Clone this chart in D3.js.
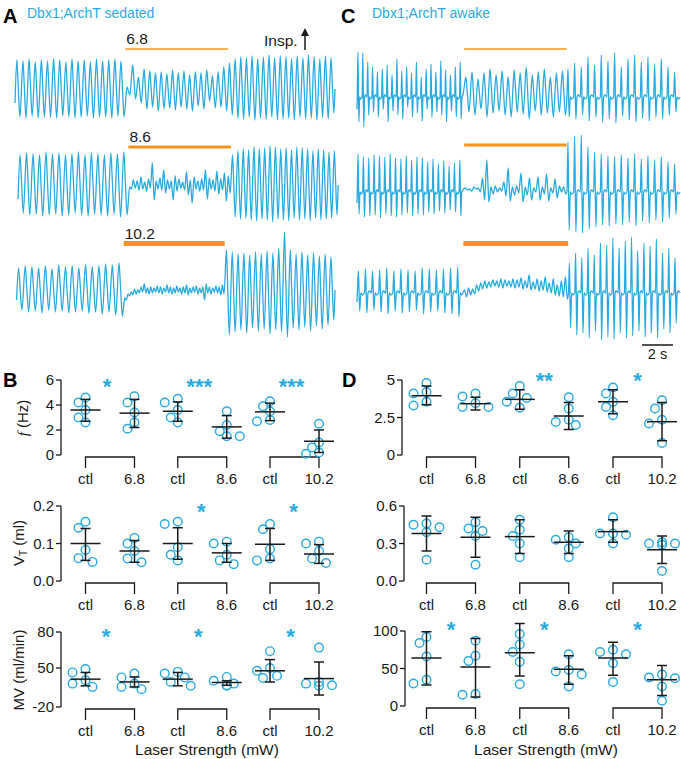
<!DOCTYPE html>
<html><head><meta charset="utf-8">
<script src="https://cdn.jsdelivr.net/npm/d3@7"></script>
<style>body{margin:0;background:#fff}svg{display:block}text{font-family:"Liberation Sans",Arial,sans-serif}</style>
</head><body><svg id="c" width="681" height="759"></svg>
<script>
// ================= DATA =================
const categories = ["ctl","6.8","ctl","8.6","ctl","10.2"];
const laserLevels = ["6.8","8.6","10.2"];

// ---- Panel B (sedated): points per group, mean, whisker [lo,hi]
const sedFreqPts = [[4.6,4.2,3.6,3.0,2.6],[4.7,4.2,3.4,2.6,2.1],[4.5,4.2,3.6,3.0,2.6],[3.5,2.4,1.9,1.5,1.5],[4.3,3.9,3.5,2.8,2.7],[2.5,1.0,0.6,0.2,0.1]];
const sedFreqMean = [3.6,3.35,3.5,2.25,3.45,1.1];
const sedFreqErr = [[2.7,4.45],[2.2,4.45],[2.7,4.25],[1.35,3.15],[2.75,4.15],[0.2,2.0]];
const sedVtPts = [[0.158,0.142,0.083,0.061,0.051],[0.115,0.1,0.08,0.06,0.05],[0.158,0.152,0.09,0.07,0.055],[0.105,0.1,0.07,0.055,0.045],[0.152,0.138,0.085,0.06,0.055],[0.105,0.1,0.08,0.06,0.048]];
const sedVtMean = [0.1,0.08,0.1,0.075,0.098,0.072];
const sedVtErr = [[0.055,0.14],[0.05,0.108],[0.058,0.142],[0.05,0.1],[0.055,0.14],[0.047,0.097]];
const sedMvPts = [[48,42,28,22,16],[40,33,22,16,12],[43,40,33,25,18],[34,27,22,19,18],[64,50,45,36,32],[67,25,22,19,18]];
const sedMvMean = [30,25,30,24,45,31];
const sedMvErr = [[18,42],[16,34],[18,42],[19,27],[25,57],[1.5,55]];

// ---- Panel D (awake)
const awkFreqPts = [[4.8,4.2,4.1,3.55,3.3],[4.1,3.9,3.45,3.2,3.2],[4.6,4.1,3.8,3.55,3.15],[3.85,3.1,2.35,2.2,2.0],[4.5,4.1,3.55,3.2,2.65],[3.65,3.1,2.35,2.1,0.8]];
const awkFreqMean = [3.95,3.42,3.71,2.6,3.55,2.22];
const awkFreqErr = [[3.35,4.6],[3.0,3.85],[3.05,4.35],[1.7,3.5],[2.75,4.35],[0.95,3.5]];
const awkVtPts = [[0.46,0.45,0.43,0.39,0.17],[0.47,0.42,0.40,0.36,0.13],[0.49,0.41,0.36,0.30,0.19],[0.35,0.33,0.30,0.26,0.19],[0.51,0.38,0.38,0.37,0.30],[0.31,0.30,0.30,0.29,0.08]];
const awkVtMean = [0.38,0.35,0.355,0.31,0.395,0.25];
const awkVtErr = [[0.24,0.52],[0.19,0.51],[0.22,0.49],[0.22,0.40],[0.31,0.49],[0.14,0.36]];
const awkMvPts = [[92,84,66,35,30],[87,67,60,16,15],[96,82,72,59,29],[69,48,46,42,26],[75,72,69,57,32],[42,38,37,26,7]];
const awkMvMean = [64,52,71,49,64,35];
const awkMvErr = [[28,99],[12,90],[40,110],[29,67],[41,85],[14,54]];

// significance marks: [pair index, stars]
const sedFreqSig = [[0,"*"],[1,"***"],[2,"***"]];
const sedVtSig = [[1,"*"],[2,"*"]];
const sedMvSig = [[0,"*"],[1,"*"],[2,"*"]];
const awkFreqSig = [[1,"**"],[2,"*"]];
const awkVtSig = [];
const awkMvSig = [[0,"*"],[1,"*"],[2,"*"]];

// tick values / labels
const sedFreqTicks = [0,2,4,6], sedFreqTickLabels = ["0","2","4","6"];
const sedVtTicks = [0,0.1,0.2], sedVtTickLabels = ["0.0","0.1","0.2"];
const sedMvTicks = [-20,50,80], sedMvTickLabels = ["-20","50","80"];
const awkFreqTicks = [0,2.5,5], awkFreqTickLabels = ["0","2.5","5"];
const awkVtTicks = [0,0.3,0.6], awkVtTickLabels = ["0.0","0.3","0.6"];
const awkMvTicks = [0,50,100], awkMvTickLabels = ["0","50","100"];

// ---- Breathing traces: times (s) [start, laser on, laser off, end]; cycles [peak, trough] (a.u.)
const sed68Times = [0, 7.1, 13.7, 20.6];
const sed68Pre = [[29,-28],[28,-29],[30,-27],[27,-29],[29,-28],[28,-28],[30,-29],[29,-27],[27,-28],[30,-29],[28,-28],[29,-27],[27,-29],[30,-28],[28,-28],[29,-29],[30,-27],[28,-28]];
const sed68Laser = [[2,-6],[24,-10],[12,-14],[20,-20],[18,-18],[16,-22],[17,-20],[15,-19],[19,-21],[16,-18],[18,-20],[14,-22],[17,-17],[16,-20],[19,-12],[13,-19],[17,-18],[22,-22]];
const sed68Post = [[26,-26],[30,-29],[32,-30],[31,-28],[33,-31],[30,-29],[32,-30],[34,-28],[31,-31],[33,-30],[32,-29],[30,-31],[33,-28],[31,-30],[34,-29],[32,-31],[30,-28],[33,-30],[31,-24]];
const sed86Times = [0.2, 7.3, 13.9, 20.8];
const sed86Pre = [[30,-28],[32,-30],[31,-29],[30,-31],[33,-30],[31,-29],[32,-31],[30,-30],[31,-28],[33,-30],[30,-31],[32,-29],[31,-30],[30,-31],[32,-29],[31,-32],[33,-30]];
const sed86Laser = [[-2,-4],[5,-3],[4,-5],[8,-4],[3,-6],[6,-3],[22,-15],[4,-4],[7,-5],[15,-8],[5,-4],[4,-15],[9,-6],[6,-3],[3,-5],[13,-10],[5,-18],[8,-4],[4,-6],[6,-5],[15,-14],[7,-4],[5,-6],[14,-9],[6,-5],[12,-16],[9,-8]];
const sed86Post = [[30,-32],[34,-34],[36,-33],[35,-35],[38,-36],[36,-34],[37,-35],[39,-37],[38,-34],[36,-35],[37,-36],[35,-33],[38,-35],[37,-34],[36,-36],[34,-33],[36,-35],[35,-34],[33,-33],[34,-30]];
const sed102Times = [0.1, 7.0, 13.5, 20.6];
const sed102Pre = [[22,-20],[24,-22],[23,-21],[22,-23],[24,-20],[21,-22],[25,-21],[23,-23],[24,-22],[22,-21],[25,-23],[23,-22],[24,-24],[26,-22],[25,-25],[27,-26]];
const sed102Laser = [[-8,-10],[-4,-6],[-2,-5],[1,-4],[0,-3],[3,-2],[6,-3],[2,-4],[3,-3],[2,-2],[4,-3],[3,-4],[2,-2],[5,-3],[3,-4],[2,-3],[4,-2],[2,-4],[3,-3],[5,-5],[2,-3],[3,-2],[4,-4],[2,-3],[3,-10],[6,-3],[3,-4],[2,-2],[4,-3],[3,-5],[5,-4]];
const sed102Post = [[40,-45],[38,-42],[36,-40],[37,-43],[35,-38],[38,-41],[36,-39],[39,-44],[37,-40],[42,-42],[58,-47],[40,-38],[36,-40],[38,-37],[35,-41],[37,-36],[34,-39],[36,-35],[33,-30]];

const awk68Times = [0, 6.9, 13.5, 20.8];
const awk68Pre = [[45,-25],[44,-30],[35,-18],[30,-15],[25,-20],[28,-12],[32,-25],[22,-14],[38,-18],[26,-22],[30,-10],[24,-20],[35,-16],[20,-24],[28,-12],[33,-20],[25,-15],[36,-18],[27,-25],[22,-14],[30,-20],[35,-22]];
const awk68Laser = [[20,-15],[25,-18],[18,-12],[24,-20],[28,-16],[22,-14],[26,-18],[20,-20],[27,-15],[24,-17],[30,-22],[22,-14],[25,-18],[28,-16],[20,-20],[24,-15],[26,-18]];
const awk68Post = [[28,-20],[34,-22],[30,-18],[40,-24],[32,-20],[42,-25],[36,-22],[44,-26],[30,-19],[38,-23],[42,-25],[35,-21],[40,-24],[33,-20],[38,-22],[30,-18],[25,-15]];
const awk86Times = [0, 6.9, 13.5, 20.8];
const awk86Pre = [[38,-22],[35,-25],[34,-24],[37,-23],[36,-26],[35,-22],[38,-24],[34,-25],[33,-23],[36,-21],[32,-24],[35,-22],[34,-23],[30,-20],[33,-22],[28,-19],[31,-21],[26,-18],[29,-20],[32,-24]];
const awk86Laser = [[4,2],[3,1],[5,3],[4,0],[14,-8],[32,-10],[5,-2],[6,0],[4,1],[10,-4],[24,-9],[5,-3],[6,-1],[19,-10],[5,-3],[14,-8],[4,0],[15,-8],[5,-2],[18,-9],[4,-1],[13,-6],[6,0],[5,-2]];
const awk86Post = [[50,-38],[56,-40],[57,-41],[45,-37],[40,-35],[38,-33],[36,-34],[35,-32],[37,-33],[34,-30],[38,-34],[33,-29],[36,-31],[32,-28],[35,-30],[30,-26],[28,-22]];
const awk102Times = [0, 6.85, 13.6, 20.8];
const awk102Pre = [[22,-18],[24,-20],[22,-17],[23,-19],[25,-21],[22,-18],[24,-20],[23,-19],[22,-17],[25,-21],[24,-19],[23,-18],[24,-20],[25,-21],[26,-24]];
const awk102Laser = [[3,-4],[5,-2],[4,-1],[8,2],[10,4],[12,5],[11,6],[13,7],[12,6],[14,5],[13,7],[12,6],[14,5],[13,6],[15,4],[12,5],[18,3],[11,4],[14,2],[12,3],[16,1],[10,0],[14,-2],[8,-3],[12,-4],[16,-6]];
const awk102Post = [[30,-35],[40,-42],[35,-40],[45,-45],[38,-38],[50,-47],[48,-44],[55,-46],[45,-40],[52,-45],[56,-43],[42,-38],[50,-44],[47,-40],[54,-45],[40,-36],[45,-40],[35,-30]];

// ================= DRAW =================
const cyan = "#29abe2", orange = "#f7941d", ink = "#1a1a1a";
const svg = d3.select("#c");

function drawTrace(cfg) {
  const x = d3.scaleLinear().domain([0, cfg.tMax]).range(cfg.xRange);
  const y = d3.scaleLinear().domain([-60, 60]).range([cfg.cy + 60, cfg.cy - 60]);
  const t = cfg.times;
  const segs = [[t[0], t[1], cfg.pre, cfg.style], [t[1], t[2], cfg.laser, "zig"], [t[2], t[3], cfg.post, cfg.style]];
  const pts = [[t[0], cfg.pre[0][1] * 0.5]];
  segs.forEach(([a, b, cyc, style]) => {
    const p = (b - a) / cyc.length;
    cyc.forEach(([top, bot], i) => {
      const t0 = a + i * p;
      if (style === "zig") {
        pts.push([t0 + 0.3 * p, top]);
        pts.push([t0 + 0.52 * p, bot + 0.55 * (top - bot)]);
        pts.push([t0 + 0.8 * p, bot]);
      } else {
        pts.push([t0 + 0.05 * p, 0]);
        pts.push([t0 + 0.2 * p, top]);
        pts.push([t0 + 0.38 * p, bot]);
        pts.push([t0 + 0.55 * p, 0]);
        pts.push([t0 + 0.75 * p, i % 2 ? 2 : -2]);
      }
    });
  });
  pts.push([t[3], 0]);
  svg.append("path").attr("d", d3.line().curve(d3.curveMonotoneX).x(d => x(d[0])).y(d => y(d[1]))(pts))
    .attr("fill", "none").attr("stroke", cyan).attr("stroke-width", 1.3).attr("stroke-linejoin", "round");
  svg.append("line").attr("x1", x(t[1])).attr("x2", x(t[2])).attr("y1", cfg.barY).attr("y2", cfg.barY)
    .attr("stroke", orange).attr("stroke-width", cfg.barW);
  if (cfg.label) svg.append("text").attr("x", x(t[1]) + 1).attr("y", cfg.barY - 5).attr("font-size", 15.5).attr("fill", ink).text(cfg.label);
  return x;
}

drawTrace({times: sed68Times, tMax: 20.6, xRange: [15, 335], cy: 89, pre: sed68Pre, laser: sed68Laser, post: sed68Post, style: "zig", barY: 49, barW: 1.5, label: laserLevels[0]});
drawTrace({times: sed86Times, tMax: 20.6, xRange: [15, 335], cy: 185, pre: sed86Pre, laser: sed86Laser, post: sed86Post, style: "zig", barY: 147, barW: 3, label: laserLevels[1]});
drawTrace({times: sed102Times, tMax: 20.6, xRange: [15, 335], cy: 290, pre: sed102Pre, laser: sed102Laser, post: sed102Post, style: "zig", barY: 243.5, barW: 5, label: laserLevels[2]});
drawTrace({times: awk68Times, tMax: 20.8, xRange: [357, 680], cy: 97, pre: awk68Pre, laser: awk68Laser, post: awk68Post, style: "spike", barY: 49, barW: 1.5});
drawTrace({times: awk86Times, tMax: 20.8, xRange: [357, 680], cy: 192, pre: awk86Pre, laser: awk86Laser, post: awk86Post, style: "spike", barY: 145, barW: 3});
const xC = drawTrace({times: awk102Times, tMax: 20.8, xRange: [357, 680], cy: 293, pre: awk102Pre, laser: awk102Laser, post: awk102Post, style: "spike", barY: 243.5, barW: 5});

// scale bar 2 s
svg.append("line").attr("x1", xC(18.35)).attr("x2", xC(20.35)).attr("y1", 345).attr("y2", 345).attr("stroke", ink).attr("stroke-width", 1.3);
svg.append("text").attr("x", (xC(18.35) + xC(20.35)) / 2).attr("y", 359).attr("text-anchor", "middle").attr("font-size", 14.5).attr("fill", ink).text("2 s");

// Insp. arrow
svg.append("text").attr("x", 264).attr("y", 46).attr("font-size", 15.5).attr("fill", ink).text("Insp.");
svg.append("line").attr("x1", 305).attr("x2", 305).attr("y1", 50).attr("y2", 34).attr("stroke", ink).attr("stroke-width", 1.5);
svg.append("path").attr("d", "M301,36 L305,28 L309,36 Z").attr("fill", ink);

// panel letters & titles
[["A", 3, 23], ["C", 341, 23], ["B", 3, 387], ["D", 342, 387]].forEach(([s, x, y]) =>
  svg.append("text").attr("x", x).attr("y", y).attr("font-size", 20).attr("font-weight", "bold").attr("fill", "#000").text(s));
svg.append("text").attr("x", 27).attr("y", 18).attr("font-size", 14).attr("fill", cyan).text("Dbx1;ArchT sedated");
svg.append("text").attr("x", 372).attr("y", 18).attr("font-size", 14).attr("fill", cyan).text("Dbx1;ArchT awake");

// ---------- scatter panels ----------
function drawScatter(cfg) {
  const y = d3.scaleLinear().domain(cfg.domain).range(cfg.range);
  const pair = d3.scalePoint().domain([0, 1, 2]).range(cfg.pairRange);
  const gx = i => pair(Math.floor(i / 2)) + (i % 2 ? 24.5 : -24.5);
  const g = svg.append("g");
  const yTop = y(cfg.ticks[cfg.ticks.length - 1]), yBot = y(cfg.ticks[0]);
  g.append("line").attr("x1", cfg.axisX).attr("x2", cfg.axisX).attr("y1", yTop).attr("y2", yBot).attr("stroke", ink).attr("stroke-width", 1.3);
  cfg.ticks.forEach((v, i) => {
    g.append("line").attr("x1", cfg.axisX - 5).attr("x2", cfg.axisX).attr("y1", y(v)).attr("y2", y(v)).attr("stroke", ink).attr("stroke-width", 1.3);
    g.append("text").attr("x", cfg.axisX - 7).attr("y", y(v) + 5).attr("text-anchor", "end").attr("font-size", 15).attr("fill", ink).text(cfg.tickLabels[i]);
  });
  const by = yBot + 2;
  [0, 1, 2].forEach(k => {
    const a = gx(2 * k), b = gx(2 * k + 1);
    g.append("path").attr("d", `M${a},${by + 11} V${by} H${b} V${by + 11}`).attr("fill", "none").attr("stroke", ink).attr("stroke-width", 1.3);
  });
  categories.forEach((c, i) => g.append("text").attr("x", gx(i)).attr("y", by + 27).attr("text-anchor", "middle").attr("font-size", 15).attr("fill", ink).text(c));
  cfg.pts.forEach((vals, i) => {
    const placed = [];
    const order = vals.map((v, j) => j).sort((p, q) => vals[q] - vals[p]);
    order.forEach(j => {
      const py = y(vals[j]);
      const cands = [0, -7, 7, -13, 13];
      let off = cands.find(o => placed.every(([ox, oy]) => Math.hypot(ox - o, oy - py) >= 8.5));
      if (off === undefined) off = 0;
      placed.push([off, py]);
      g.append("circle").attr("cx", gx(i) + off).attr("cy", py).attr("r", 4.3)
        .attr("fill", "none").attr("stroke", cyan).attr("stroke-width", 1.4);
    });
  });
  cfg.mean.forEach((m, i) => {
    const cx = gx(i), [lo, hi] = cfg.err[i];
    g.append("line").attr("x1", cx - 15).attr("x2", cx + 15).attr("y1", y(m)).attr("y2", y(m)).attr("stroke", ink).attr("stroke-width", 1.5);
    g.append("line").attr("x1", cx).attr("x2", cx).attr("y1", y(lo)).attr("y2", y(hi)).attr("stroke", ink).attr("stroke-width", 1.5);
    [lo, hi].forEach(v => g.append("line").attr("x1", cx - 5).attr("x2", cx + 5).attr("y1", y(v)).attr("y2", y(v)).attr("stroke", ink).attr("stroke-width", 1.5));
  });
  cfg.sig.forEach(([k, s]) => {
    g.append("text").attr("x", pair(k) + (cfg.sigDx || 0)).attr("y", cfg.sigY + 13).attr("text-anchor", "middle")
      .attr("font-size", 22).attr("font-weight", "bold").attr("fill", cyan).text(s);
  });
}

const pairB = [110, 294.5], pairD = [451, 637.5];
drawScatter({axisX: 61, domain: [0, 6], range: [455, 380], ticks: sedFreqTicks, tickLabels: sedFreqTickLabels, pairRange: pairB, pts: sedFreqPts, mean: sedFreqMean, err: sedFreqErr, sig: sedFreqSig, sigY: 381, sigDx: -3});
drawScatter({axisX: 61, domain: [0, 0.2], range: [581, 506], ticks: sedVtTicks, tickLabels: sedVtTickLabels, pairRange: pairB, pts: sedVtPts, mean: sedVtMean, err: sedVtErr, sig: sedVtSig, sigY: 506, sigDx: -1});
drawScatter({axisX: 61, domain: [-20, 50, 80], range: [707, 668, 632], ticks: sedMvTicks, tickLabels: sedMvTickLabels, pairRange: pairB, pts: sedMvPts, mean: sedMvMean, err: sedMvErr, sig: sedMvSig, sigY: 631, sigDx: -4});
drawScatter({axisX: 402, domain: [0, 5], range: [455, 380], ticks: awkFreqTicks, tickLabels: awkFreqTickLabels, pairRange: pairD, pts: awkFreqPts, mean: awkFreqMean, err: awkFreqErr, sig: awkFreqSig, sigY: 375, sigDx: 0});
drawScatter({axisX: 404, domain: [0, 0.6], range: [581, 506], ticks: awkVtTicks, tickLabels: awkVtTickLabels, pairRange: pairD, pts: awkVtPts, mean: awkVtMean, err: awkVtErr, sig: awkVtSig, sigY: 506});
drawScatter({axisX: 405, domain: [0, 100], range: [706, 631], ticks: awkMvTicks, tickLabels: awkMvTickLabels, pairRange: pairD, pts: awkMvPts, mean: awkMvMean, err: awkMvErr, sig: awkMvSig, sigY: 624, sigDx: 0});

function yTitle(x, y, build) {
  const t = svg.append("text").attr("transform", `translate(${x},${y}) rotate(-90)`).attr("text-anchor", "middle").attr("font-size", 15).attr("fill", ink);
  build(t);
}
yTitle(28, 418, t => { t.append("tspan").attr("font-style", "italic").attr("font-family", "Liberation Serif, serif").text("f"); t.append("tspan").text(" (Hz)"); });
yTitle(24, 543, t => { t.append("tspan").text("V"); t.append("tspan").attr("font-size", 10).attr("dy", 3).text("T"); t.append("tspan").attr("dy", -3).text(" (ml)"); });
yTitle(24, 670, t => t.text("MV (ml/min)"));

svg.append("text").attr("x", 207).attr("y", 755).attr("text-anchor", "middle").attr("font-size", 15.5).attr("fill", ink).text("Laser Strength (mW)");
svg.append("text").attr("x", 546).attr("y", 755).attr("text-anchor", "middle").attr("font-size", 15.5).attr("fill", ink).text("Laser Strength (mW)");
</script></body></html>
